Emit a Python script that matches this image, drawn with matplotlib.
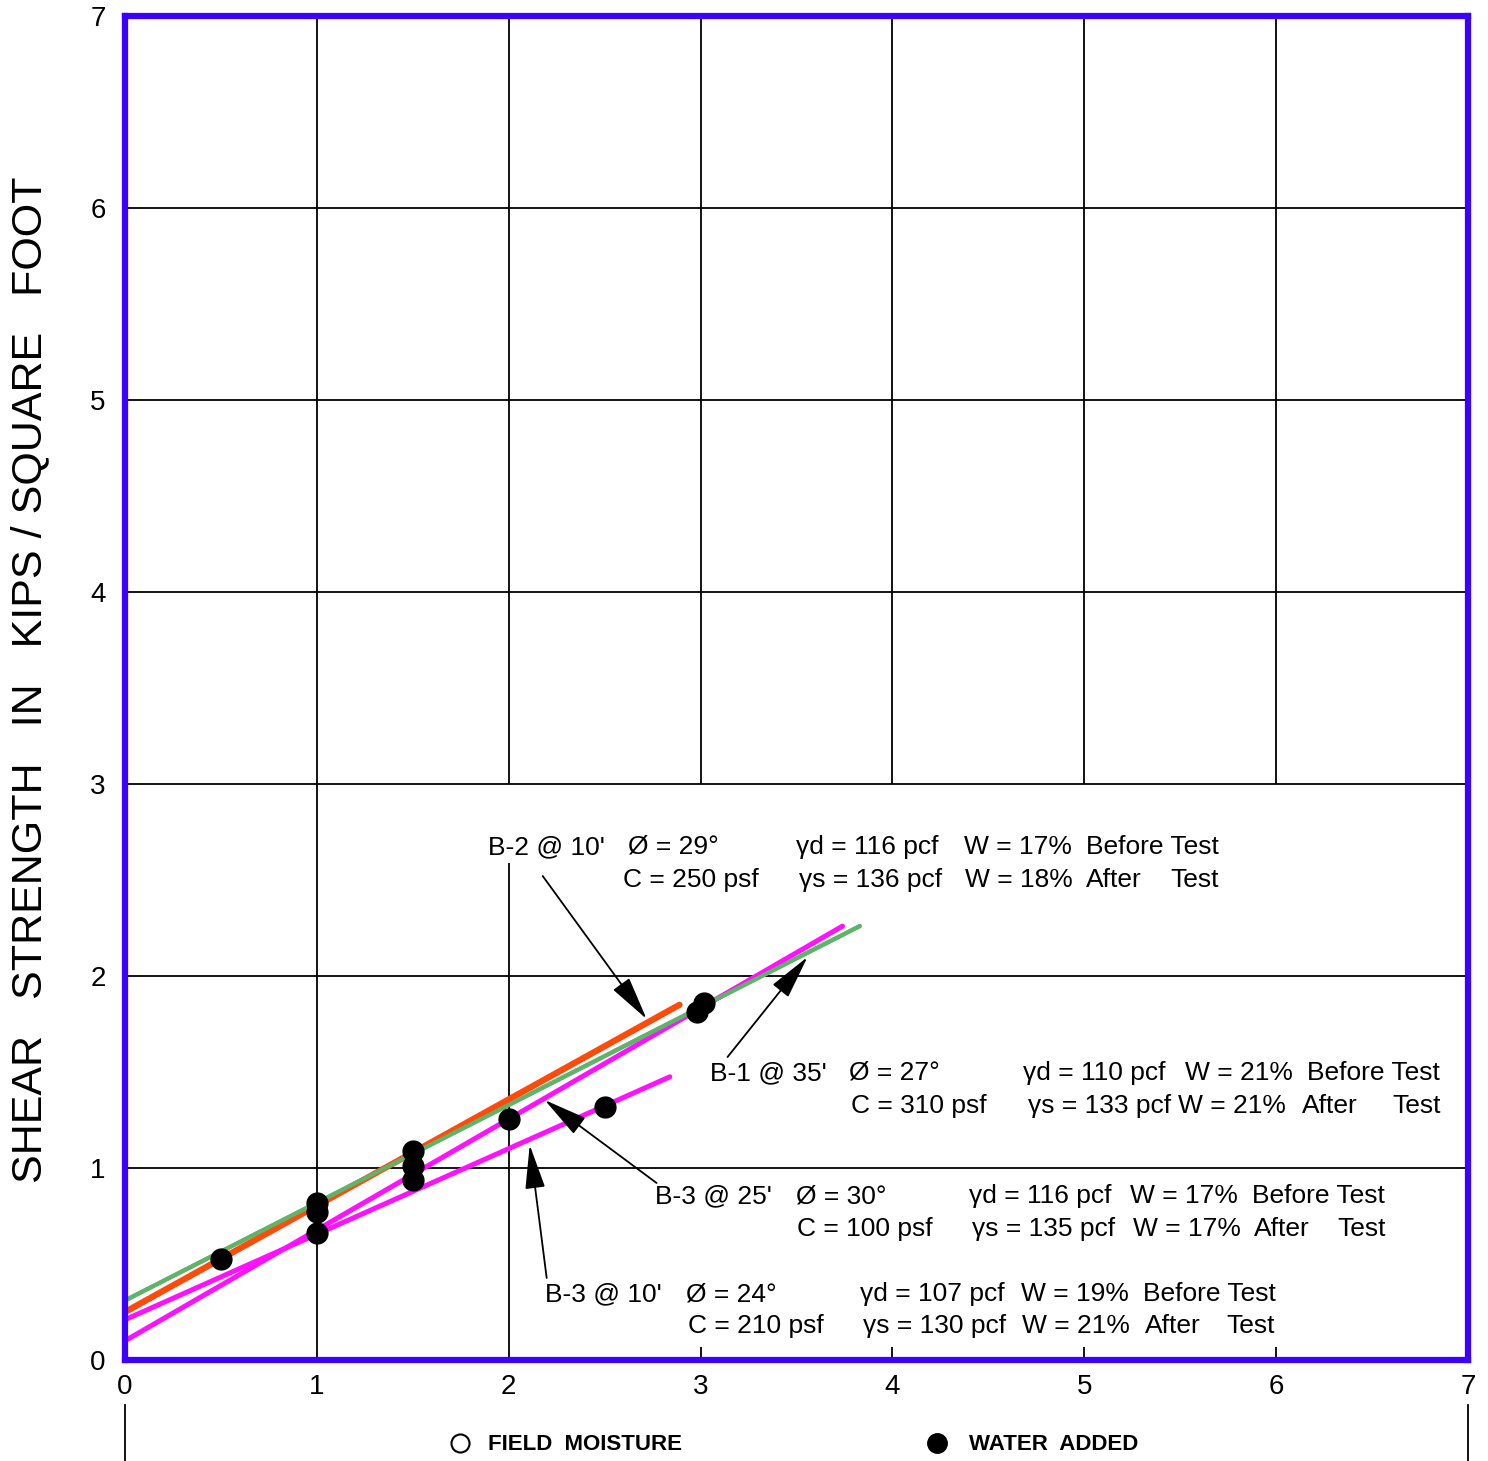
import matplotlib.pyplot as plt
import numpy as np

plt.rcParams["font.family"] = ["Liberation Sans", "DejaVu Sans"]

# failure envelopes (end points, kips / sq ft)
env_names = ["B-1 @ 35'", "B-2 @ 10'", "B-3 @ 25'", "B-3 @ 10'"]
env_x0 = [0.0, 0.0, 0.0, 0.0]
env_y0 = [0.31, 0.25, 0.10, 0.21]
env_x1 = [3.83, 2.89, 3.74, 2.84]
env_y1 = [2.26, 1.85, 2.26, 1.475]
env_colors = ["#5fb46a", "#ff4b0a", "#ff10ff", "#ff10ff"]
env_widths = [3.0, 4.5, 3.6, 3.6]

# test points (water added)
pts_x = [0.5, 1.0, 1.0, 1.0, 1.5, 1.5, 1.5, 2.0, 2.5, 2.98, 3.02]
pts_y = [0.526, 0.82, 0.77, 0.66, 1.09, 1.01, 0.94, 1.255, 1.32, 1.81, 1.86]

ticks = [0, 1, 2, 3, 4, 5, 6, 7]

# annotation text, one list per line of each block
b2_line1 = ["B-2 @ 10'", "Ø = 29°", "γd = 116 pcf", "W = 17%", "Before Test"]
b2_line2 = ["C = 250 psf", "γs = 136 pcf", "W = 18%", "After", "Test"]
b1_line1 = ["B-1 @ 35'", "Ø = 27°", "γd = 110 pcf", "W = 21%", "Before Test"]
b1_line2 = ["C = 310 psf", "γs = 133 pcf", "W = 21%", "After", "Test"]
b325_line1 = ["B-3 @ 25'", "Ø = 30°", "γd = 116 pcf", "W = 17%", "Before Test"]
b325_line2 = ["C = 100 psf", "γs = 135 pcf", "W = 17%", "After", "Test"]
b310_line1 = ["B-3 @ 10'", "Ø = 24°", "γd = 107 pcf", "W = 19%", "Before Test"]
b310_line2 = ["C = 210 psf", "γs = 130 pcf", "W = 21%", "After", "Test"]


def px(x, y):
    """pixel position in the picture -> data coords"""
    return (x - 125) / 192.0, (1360 - y) / 192.0


fig = plt.figure(figsize=(14.88, 14.61), dpi=100)
ax = fig.add_axes([125 / 1488, 1 - 1360 / 1461, 1343 / 1488, 1344 / 1461])
ax.set_xlim(0, 7)
ax.set_ylim(0, 7)

# grid (parts hidden behind the text blocks in the original)
gkw = dict(color="black", lw=1.3, zorder=1)
ax.hlines([1, 2, 3, 4, 5, 6], 0, 7, **gkw)
ax.vlines(1, 0, 7, **gkw)
ax.vlines(2, 3, 7, **gkw)
ax.vlines(2, 0, 2.59, **gkw)
ax.vlines([3, 4, 5, 6], 3, 7, **gkw)
ax.vlines([3, 4, 5, 6], 0, 0.07, **gkw)

for i in range(len(env_names)):
    ax.plot([env_x0[i], env_x1[i]], [env_y0[i], env_y1[i]], color=env_colors[i],
            lw=env_widths[i], solid_capstyle="round", zorder=3)
# draw green over the first magenta like the original
ax.plot([env_x0[0], env_x1[0]], [env_y0[0], env_y1[0]], color=env_colors[0],
        lw=env_widths[0], solid_capstyle="round", zorder=4)

ax.plot(pts_x, pts_y, "o", color="black", ms=15, zorder=5)

# text blocks
fs = 19
blocks = [
    (b2_line1, [488, 628, 796, 965, 1087], 847, b2_line2, [623, 800, 966, 1087, 1171], 880),
    (b1_line1, [710, 850, 1024, 1186, 1308], 1073, b1_line2, [852, 1029, 1179, 1303, 1393], 1106),
    (b325_line1, [655, 797, 970, 1131, 1253], 1196, b325_line2, [798, 973, 1134, 1255, 1338], 1229),
    (b310_line1, [545, 686, 861, 1022, 1144], 1294, b310_line2, [688, 864, 1023, 1146, 1227], 1326),
]
for l1, x1s, y1, l2, x2s, y2 in blocks:
    for s, xp in zip(l1, x1s):
        ax.text(*px(xp, y1), s, fontsize=fs, ha="left", va="center", zorder=6)
    for s, xp in zip(l2, x2s):
        ax.text(*px(xp, y2), s, fontsize=fs, ha="left", va="center", zorder=6)

# leader arrows
arrows = [((543, 876), (647, 1019)), ((728, 1057), (808, 957)),
          ((657, 1183), (545, 1100)), ((547, 1278), (530, 1145))]
for tail, tip in arrows:
    ax.annotate("", xy=px(*tip), xytext=px(*tail),
                arrowprops=dict(arrowstyle="-|>,head_length=1.1,head_width=0.25",
                                mutation_scale=25, color="black", lw=1.3,
                                shrinkA=0, shrinkB=0), zorder=6)

# frame
for sp in ax.spines.values():
    sp.set_color("#3c00ff")
    sp.set_linewidth(4.5)
    sp.set_zorder(7)

ax.set_xticks(ticks)
ax.set_yticks(ticks)
ax.tick_params(length=0, labelsize=20)
ax.tick_params(axis="x", pad=10)
ax.tick_params(axis="y", pad=14)

fig.text(30 / 1488, 1 - 680 / 1461,
         "SHEAR   STRENGTH   IN   KIPS / SQUARE   FOOT",
         rotation=90, fontsize=31, ha="center", va="center")

# marks below the axis and the symbol key
ax.plot([0, 0], [px(0, 1405)[1], px(0, 1461)[1]], color="black", lw=1.3, clip_on=False)
ax.plot([7, 7], [px(0, 1405)[1], px(0, 1461)[1]], color="black", lw=1.3, clip_on=False)
ax.plot(*px(460, 1443), "o", mfc="white", mec="black", mew=1.5, ms=13, clip_on=False)
ax.plot(*px(938, 1443), "o", color="black", ms=14, clip_on=False)
ax.text(*px(488, 1444), "FIELD  MOISTURE", fontsize=16, fontweight="bold",
        ha="left", va="center")
ax.text(*px(970, 1444), "WATER  ADDED", fontsize=16, fontweight="bold",
        ha="left", va="center")

fig.savefig("out.png", dpi=100, facecolor="white")
